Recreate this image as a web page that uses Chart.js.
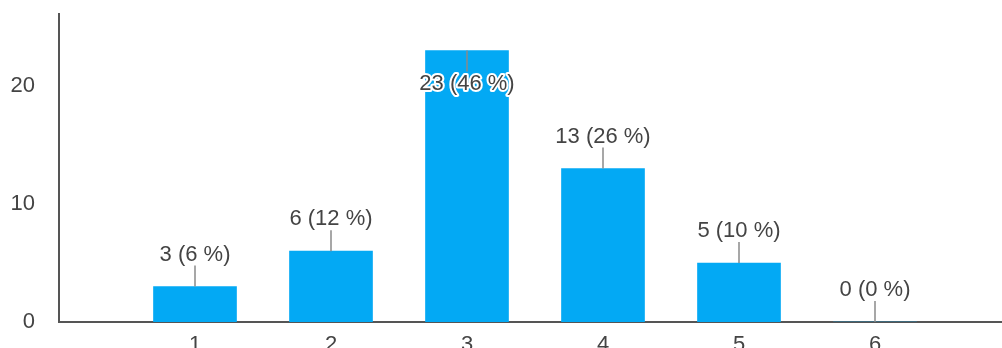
<!DOCTYPE html>
<html lang="en">
<head>
    <meta charset="UTF-8">
    <title>Answer distribution</title>
    <script src="https://cdn.jsdelivr.net/npm/chart.js"></script>
    <style>
        html, body { margin: 0; padding: 0; background: #fff; overflow: hidden; }
        .wrap { width: 1002px; height: 348px; overflow: hidden; position: relative; }
        /* canvas is a bit larger than the window so the axis runs off the edges */
        .wrap canvas { position: absolute; left: 0; top: 0; }
    </style>
</head>
<body>

<div class="wrap">
    <canvas id="answers" width="1011" height="372"></canvas>
</div>

<script>
    const categories = [1, 2, 3, 4, 5, 6];
    const counts = [3, 6, 23, 13, 5, 0];
    const yTicks = [0, 10, 20];

    const total = counts.reduce((a, b) => a + b, 0);
    const FONT = '"Liberation Sans", Arial, sans-serif';

    // value label above each bar with a short leader line
    const barLabels = {
        id: 'barLabels',
        afterDatasetsDraw(chart) {
            const { ctx, chartArea } = chart;
            const meta = chart.getDatasetMeta(0);
            ctx.save();
            ctx.font = '22px ' + FONT;
            ctx.textAlign = 'center';
            ctx.textBaseline = 'middle';
            meta.data.forEach((bar, i) => {
                const x = bar.x, y = bar.y;
                const text = counts[i] + ' (' + Math.round(counts[i] / total * 100) + ' %)';
                let lineEnd, textY;
                if (y - 45 < chartArea.top) {
                    // no room above: put it just inside the bar
                    lineEnd = y + 21;
                    textY = y + 33;
                } else {
                    lineEnd = y - 21;
                    textY = y - 32;
                }
                ctx.strokeStyle = '#8a8a8a';
                ctx.lineWidth = 1.5;
                ctx.beginPath();
                ctx.moveTo(x, y);
                ctx.lineTo(x, lineEnd);
                ctx.stroke();

                ctx.lineWidth = 4;
                ctx.lineJoin = 'round';
                ctx.strokeStyle = '#fff';
                ctx.strokeText(text, x, textY);
                ctx.fillStyle = '#444';
                ctx.fillText(text, x, textY);
            });
            ctx.restore();
        }
    };

    new Chart(document.getElementById('answers'), {
        type: 'bar',
        data: {
            datasets: [{
                data: categories.map((c, i) => ({ x: c, y: counts[i] })),
                backgroundColor: '#03a9f4',
                borderWidth: 0,
                barThickness: 83
            }]
        },
        options: {
            responsive: false,
            animation: false,
            layout: { padding: { top: 14, left: 0, right: 0, bottom: 0 } },
            plugins: { legend: { display: false }, tooltip: { enabled: false } },
            scales: {
                x: {
                    type: 'linear',
                    min: 0,
                    max: 7,
                    offset: false,
                    grid: { display: false, drawTicks: false },
                    border: { display: true, color: '#555', width: 2 },
                    afterBuildTicks: (scale) => { scale.ticks = categories.map(v => ({ value: v })); },
                    afterFit: (scale) => {
                        scale.height = 50;
                        scale.paddingLeft = 0;
                        scale.paddingRight = 0;
                    },
                    ticks: {
                        padding: 10,
                        color: '#444',
                        font: { family: FONT, size: 22 },
                        maxRotation: 0,
                        callback: (v) => String(v)
                    }
                },
                y: {
                    min: 0,
                    max: 26.1,
                    grid: { display: false, drawTicks: false },
                    border: { display: true, color: '#555', width: 2 },
                    afterBuildTicks: (scale) => { scale.ticks = yTicks.map(v => ({ value: v })); },
                    afterFit: (scale) => {
                        scale.width = 59;
                        scale.paddingTop = 0;
                        scale.paddingBottom = 0;
                    },
                    ticks: {
                        padding: 24,
                        color: '#444',
                        font: { family: FONT, size: 22 }
                    }
                }
            }
        },
        plugins: [barLabels]
    });
</script>

</body>
</html>
